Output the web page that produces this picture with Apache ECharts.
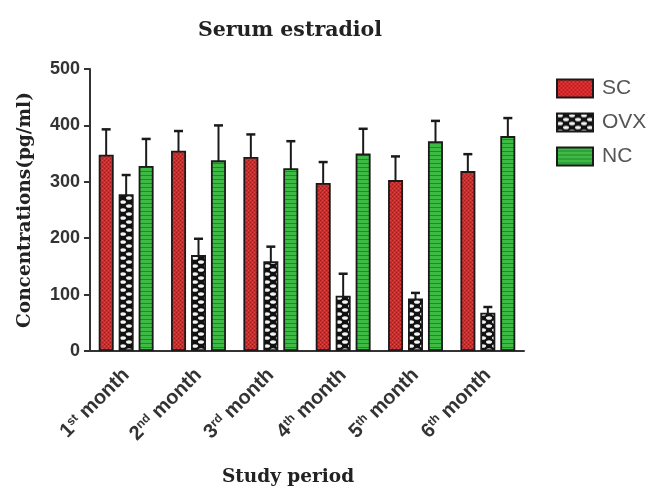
<!DOCTYPE html>
<html><head><meta charset="utf-8">
<script src="https://cdn.jsdelivr.net/npm/echarts@6/dist/echarts.min.js"></script>
<style>html,body{margin:0;padding:0;background:#fff}#c{width:668px;height:491px}</style>
</head><body><div id="c"></div>
<script>
const categories = ['1st month','2nd month','3rd month','4th month','5th month','6th month'];
const catMain = ['1','2','3','4','5','6'];
const catSup = ['st','nd','rd','th','th','th'];
const scValues = [348, 355, 344, 298, 303, 319];
const ovxValues = [278, 170, 159, 98, 93, 68];
const ncValues = [328, 338, 324, 350, 372, 381];
const scErr = [393, 390, 384, 335, 345, 349];
const ovxErr = [312, 199, 185, 137, 103, 78];
const ncErr = [376, 400, 372, 394, 408, 413];
const yTicks = [0, 100, 200, 300, 400, 500];

function mk(w, h, draw) { const c = document.createElement('canvas'); c.width = w; c.height = h; draw(c.getContext('2d')); return c; }
const scPat = mk(4, 4, g => { g.fillStyle = '#d22a2a'; g.fillRect(0,0,4,4); g.fillStyle = '#a01818'; g.fillRect(0,0,1,1); g.fillRect(2,2,1,1); g.fillStyle='#e44444'; g.fillRect(2,0,1,1); g.fillRect(0,2,1,1); });
const ovxPat = mk(12, 8, g => { g.fillStyle = '#111'; g.fillRect(0,0,12,8); g.fillStyle = '#f4f4f4';
  g.beginPath(); g.ellipse(3,2,3,1.8,0,0,Math.PI*2); g.fill();
  g.beginPath(); g.ellipse(9,6,3,1.8,0,0,Math.PI*2); g.fill(); });
const ncPat = mk(4, 4, g => { g.fillStyle = '#3dbb45'; g.fillRect(0,0,4,4); g.fillStyle = '#24872c'; g.fillRect(0,3,4,1); });

const chart = echarts.init(document.getElementById('c'), null, {renderer: 'canvas'});
const font = 'Liberation Sans, Arial, sans-serif';
const serif = 'DejaVu Serif, Liberation Serif, serif';

function errSeries(name, vals, off) {
  return {
    type: 'custom', name: name + ' err', silent: true, z: 1,
    data: vals.map((v, i) => [i, v]),
    renderItem: (params, api) => {
      const i = api.value(0);
      const top = api.coord([i, api.value(1)]);
      const base = api.coord([i, 0]);
      const x = top[0] + off;
      return { type: 'group', children: [
        { type: 'line', shape: {x1: x, y1: top[1], x2: x, y2: base[1]}, style: {stroke: '#1a1a1a', lineWidth: 2} },
        { type: 'line', shape: {x1: x - 4.5, y1: top[1], x2: x + 4.5, y2: top[1]}, style: {stroke: '#1a1a1a', lineWidth: 2.5} }
      ]};
    }
  };
}
const barStyle = (pat) => ({ color: {image: pat, repeat: 'repeat'}, borderColor: '#1a1a1a', borderWidth: 1.8 });

chart.setOption({
  animation: false,
  title: [
    { text: 'Serum estradiol', left: 285, top: 15, textAlign: 'center', textStyle: {fontFamily: serif, fontWeight: 'bold', fontSize: 20.5, color: '#222'} },
    { text: 'Study period', left: 283, top: 463, textAlign: 'center', textStyle: {fontFamily: serif, fontWeight: 'bold', fontSize: 18.5, color: '#222'} }
  ],
  legend: {
    orient: 'vertical', left: 551, top: 73, itemWidth: 36, itemHeight: 18, itemGap: 13, icon: 'rect',
    data: ['SC','OVX','NC'],
    textStyle: {fontFamily: font, fontSize: 21, lineHeight: 20, color: '#555', padding: [0,0,0,4]},
    itemStyle: {borderColor: '#1a1a1a', borderWidth: 2}
  },
  grid: { left: 90, right: 144, top: 69, bottom: 140 },
  xAxis: {
    type: 'category', data: categories,
    axisLine: {lineStyle: {color: '#333', width: 2}},
    axisTick: {alignWithLabel: true, length: 6, lineStyle: {color: '#333', width: 2}},
    axisLabel: {
      rotate: 45, margin: 21, interval: 0,
      formatter: (v, i) => '{a|' + catMain[i] + '}{s|' + catSup[i] + '}{a| month}',
      rich: {
        a: {fontFamily: font, fontWeight: 'bold', fontSize: 20, color: '#333'},
        s: {fontFamily: font, fontWeight: 'bold', fontSize: 12, color: '#333', verticalAlign: 'top'}
      }
    }
  },
  yAxis: {
    type: 'value', min: 0, max: 500, interval: 100,
    name: 'Concentrations(pg/ml)', nameLocation: 'middle', nameGap: 55,
    nameTextStyle: {fontFamily: serif, fontWeight: 'bold', fontSize: 18.5, color: '#222'},
    axisLine: {show: true, lineStyle: {color: '#333', width: 2}},
    axisTick: {show: true, length: 6, lineStyle: {color: '#333', width: 2}},
    splitLine: {show: false},
    axisLabel: {fontFamily: font, fontWeight: 'bold', fontSize: 18, color: '#333', margin: 10,
      formatter: v => yTicks.includes(v) ? String(v) : ''}
  },
  series: [
    errSeries('SC', scErr, -20),
    errSeries('OVX', ovxErr, 0),
    errSeries('NC', ncErr, 20),
    { type: 'bar', name: 'SC', data: scValues, barWidth: 15, barGap: '33%', itemStyle: barStyle(scPat), z: 2 },
    { type: 'bar', name: 'OVX', data: ovxValues, barWidth: 15, barGap: '33%', itemStyle: barStyle(ovxPat), z: 2 },
    { type: 'bar', name: 'NC', data: ncValues, barWidth: 15, barGap: '33%', itemStyle: barStyle(ncPat), z: 2 }
  ]
});
</script></body></html>
